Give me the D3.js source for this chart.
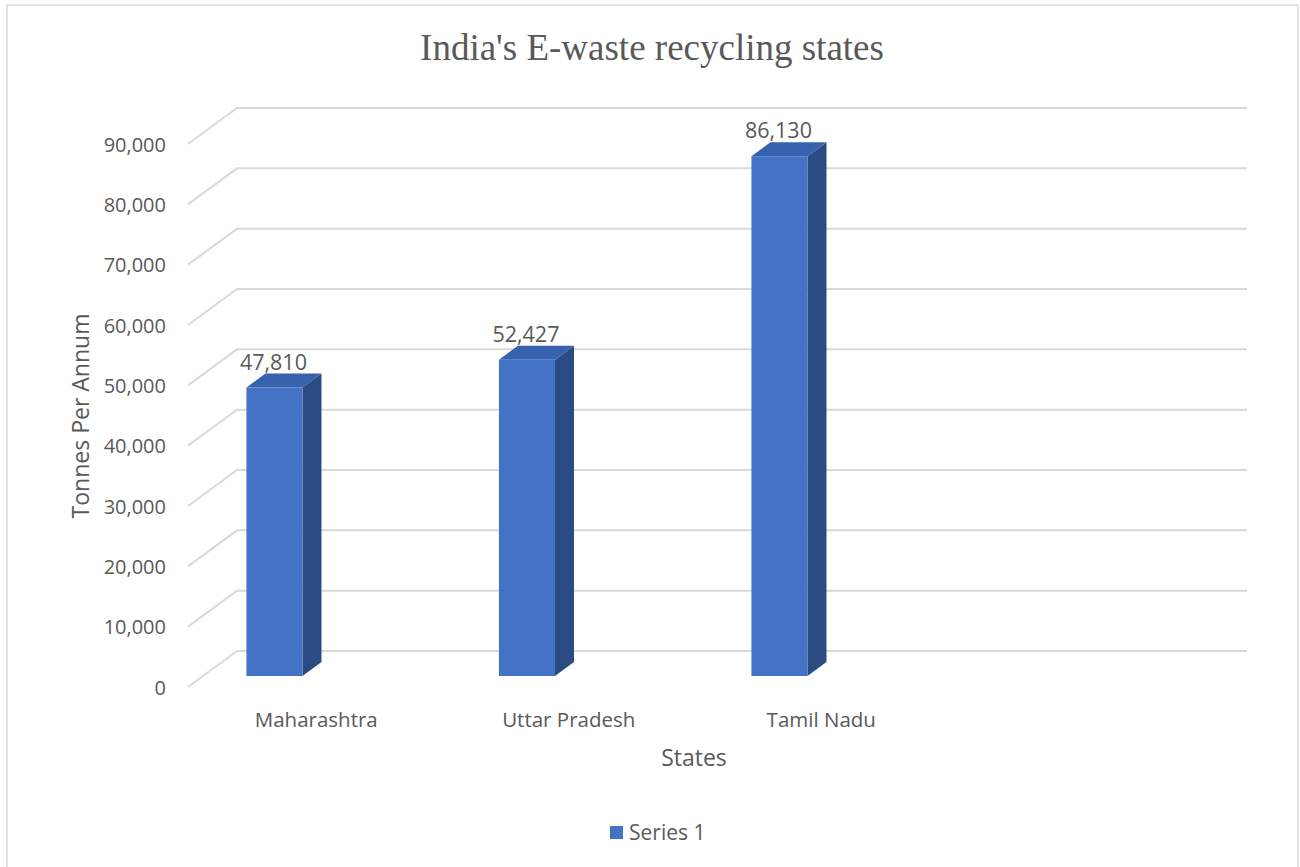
<!DOCTYPE html>
<html>
<head>
<meta charset="utf-8">
<script src="https://cdn.jsdelivr.net/npm/d3@7"></script>
<style>
  html, body { margin: 0; padding: 0; background: #fff; }
  svg { display: block; }
  text { font-family: "Open Sans", "Noto Sans", sans-serif; fill: #595959; }
</style>
</head>
<body>
<svg id="chart" width="1300" height="867"></svg>
<script>
// Recycling capacity by state (tonnes per annum); last category slot is left empty
const categories = ["Maharashtra", "Uttar Pradesh", "Tamil Nadu", ""];
const values = [47810, 52427, 86130, null];
const yTicks = [0, 10000, 20000, 30000, 40000, 50000, 60000, 70000, 80000, 90000];
const seriesName = "Series 1";

const W = 1300, H = 867;
const svg = d3.select("#chart");

// chart-area border
svg.append("rect")
  .attr("x", 7).attr("y", 5).attr("width", 1291).attr("height", 866)
  .attr("fill", "#fff").attr("stroke", "#d9d9d9").attr("stroke-width", 1.5);

// oblique projection: depth 0 = front edge of the floor, 1 = back wall
const DEPTH_X = 49, DEPTH_Y = -36;
const proj = (x, y, d) => [x + DEPTH_X * d, y + DEPTH_Y * d];

// scales defined in the front plane
const x = d3.scaleBand().domain(categories).range([188, 1198]).padding(0);
const y = d3.scaleLinear().domain([0, 90000]).range([687, 144]);

// gridlines: diagonal on the side wall, then along the back wall
const grid = svg.append("g").attr("fill", "none").attr("stroke", "#d9d9d9").attr("stroke-width", 2);
yTicks.forEach(t => {
  const p0 = [x.range()[0], y(t)];
  const p1 = proj(p0[0], p0[1], 1);
  const p2 = proj(x.range()[1], y(t), 1);
  grid.append("path").attr("d", d3.line()([p0, p1, p2]));
});

// y-axis tick labels
const yAxis = d3.axisLeft(y).tickValues(yTicks).tickFormat(d3.format(",")).tickSize(0).tickPadding(0);
const gy = svg.append("g").attr("transform", "translate(166,0)").call(yAxis);
gy.select(".domain").remove();
gy.selectAll("text")
  .style("font-family", '"Open Sans", sans-serif')
  .style("font-size", "20px")
  .style("fill", "#595959")
  .attr("dy", "0.36em");

// 3D columns
const D0 = 0.306, D1 = 0.694;         // depth span of each column
const BAR_OFF = 0.172, BAR_W = 0.222; // position inside the category band
const FRONT = "#4472c4", TOP = "#3762ae", SIDE = "#2b4b83";
const bars = svg.append("g");
categories.forEach((c, i) => {
  const v = values[i];
  if (v == null) return;
  const xl = x(c) + x.bandwidth() * BAR_OFF;
  const xr = xl + x.bandwidth() * BAR_W;
  const fbl = proj(xl, y(0), D0), fbr = proj(xr, y(0), D0);
  const ftl = proj(xl, y(v), D0), ftr = proj(xr, y(v), D0);
  const bbr = proj(xr, y(0), D1), btl = proj(xl, y(v), D1), btr = proj(xr, y(v), D1);
  const poly = pts => "M" + pts.map(p => p.join(",")).join("L") + "Z";
  bars.append("path").attr("d", poly([fbr, bbr, btr, ftr])).attr("fill", SIDE);
  bars.append("path").attr("d", poly([ftl, ftr, btr, btl])).attr("fill", TOP);
  bars.append("path").attr("d", poly([fbl, fbr, ftr, ftl])).attr("fill", FRONT);
  // value label above the column
  svg.append("text")
    .attr("x", (ftl[0] + ftr[0]) / 2 - 1)
    .attr("y", ftl[1] - 18)
    .attr("text-anchor", "middle")
    .style("font-size", "21.5px")
    .text(d3.format(",")(v));
});

// category labels
categories.forEach(c => {
  if (!c) return;
  svg.append("text")
    .attr("x", x(c) + x.bandwidth() / 2 + 2)
    .attr("y", 727)
    .attr("text-anchor", "middle")
    .style("font-size", "20.5px")
    .text(c);
});

// title
svg.append("text")
  .attr("x", 652).attr("y", 60)
  .attr("text-anchor", "middle")
  .style("font-family", '"Liberation Serif", "Times New Roman", serif')
  .style("font-size", "37px")
  .text("India's E-waste recycling states");

// axis titles
svg.append("text")
  .attr("transform", "translate(89,416) rotate(-90)")
  .attr("text-anchor", "middle")
  .style("font-size", "23px")
  .text("Tonnes Per Annum");

svg.append("text")
  .attr("x", 694).attr("y", 766)
  .attr("text-anchor", "middle")
  .style("font-size", "23px")
  .text("States");

// legend
const lg = svg.append("g");
lg.append("rect").attr("x", 610).attr("y", 826).attr("width", 13).attr("height", 13).attr("fill", FRONT);
lg.append("text").attr("x", 629).attr("y", 840).style("font-size", "21px").text(seriesName);
</script>
</body>
</html>
